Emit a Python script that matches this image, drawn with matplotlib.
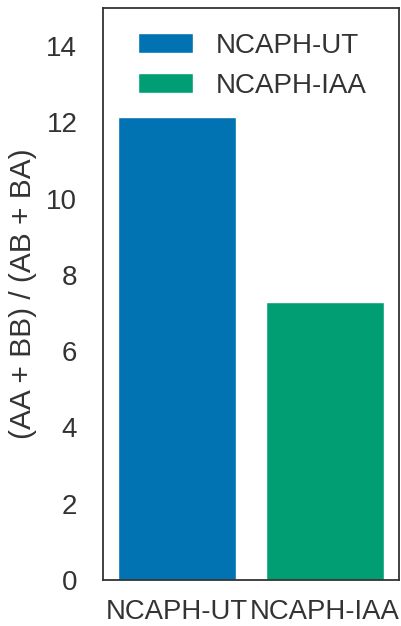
import matplotlib.pyplot as plt
import seaborn as sns

sns.set_style('white')
plt.rcParams['font.family'] = ['Liberation Sans', 'DejaVu Sans']

categories = ['NCAPH-UT', 'NCAPH-IAA']
values = [12.13, 7.28]
colors = ['#0173b2', '#029e73']

fig = plt.figure(figsize=(4.01, 6.26), dpi=100)
ax = fig.add_axes([0.257, 0.0735, 0.738, 0.914])

for i, (cat, val) in enumerate(zip(categories, values)):
    ax.bar(i, val, width=0.8, color=colors[i], label=cat)

ax.set_xticks(range(len(categories)))
ax.set_xticklabels(categories, fontsize=19.8, color='#333333')
ax.set_xlim(-0.5, 1.5)
ax.set_ylim(0, 15)
ax.set_yticks(range(0, 15, 2))
ax.tick_params(axis='y', labelsize=20, labelcolor='#333333', pad=15)
ax.tick_params(axis='x', pad=10)
ax.set_ylabel('(AA + BB) / (AB + BA)', fontsize=21.5, color='#333333', labelpad=7)

ax.legend(loc='upper right', frameon=False, fontsize=20,
          bbox_to_anchor=(0.975, 1.0), labelcolor='#333333')

for s in ax.spines.values():
    s.set_color('#333333')
    s.set_linewidth(1.3)

fig.savefig('out.png', dpi=100)
